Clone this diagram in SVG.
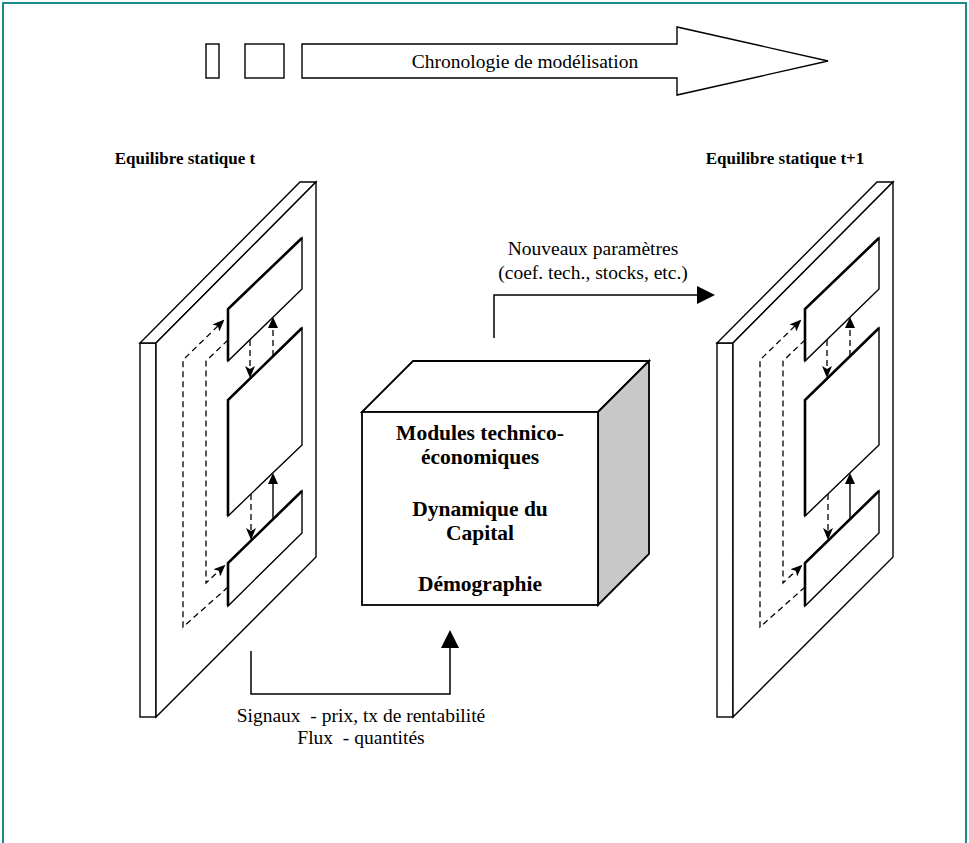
<svg xmlns="http://www.w3.org/2000/svg" xmlns:xlink="http://www.w3.org/1999/xlink" width="969" height="843" viewBox="0 0 969 843">
<style>
.ln{fill:#fff;stroke:#000;stroke-width:1.4;stroke-linejoin:miter}
.thk{fill:none;stroke:#000;stroke-width:2.6}
.ds{fill:none;stroke:#000;stroke-width:1.3;stroke-dasharray:6 4}
.so{fill:none;stroke:#000;stroke-width:1.4}
.conn{fill:none;stroke:#000;stroke-width:1.5}
.t{font-family:'Liberation Serif','Times New Roman',serif;font-size:19.5px;fill:#000}
.tb{font-family:'Liberation Serif','Times New Roman',serif;font-weight:bold;fill:#000}
</style>
<defs>
<marker id="triS" markerUnits="userSpaceOnUse" viewBox="0 0 11 10" markerWidth="11" markerHeight="10" refX="9" refY="5" orient="auto"><path d="M0,0 L11,5 L0,10 z" fill="#000"/></marker>
<marker id="barb" markerUnits="userSpaceOnUse" viewBox="0 0 12 10" markerWidth="12" markerHeight="10" refX="10" refY="5" orient="auto"><path d="M0,0 L12,5 L0,10 L3,5 z" fill="#000"/></marker>
<marker id="triB" markerUnits="userSpaceOnUse" viewBox="0 0 18 18" markerWidth="18" markerHeight="18" refX="15" refY="9" orient="auto"><path d="M0,0 L18,9 L0,18 z" fill="#000"/></marker>
<g id="panelShape">
<rect class="ln" x="140" y="343" width="16" height="374"/>
<polygon class="ln" points="140,343 156,343 316,182 300,182"/>
<polygon class="ln" points="156,343 316,182 316,557 156,717"/>
<polygon class="ln" points="228,309 302,238 302,289 228,361"/>
<polyline class="thk" points="228,361 228,309 302,238"/>
<polygon class="ln" points="228,400 302,328 302,445 228,516"/>
<polyline class="thk" points="228,516 228,400 302,328"/>
<polygon class="ln" points="228,563 302,491 302,533 228,606"/>
<polyline class="thk" points="228,606 228,563 302,491"/>
<polyline class="ds" points="228,587 183,627 183,360 223,321" marker-end="url(#barb)"/>
<polyline class="ds" points="228,340 206,361 206,583 224,566" marker-end="url(#barb)"/>
<line class="ds" x1="250" y1="340" x2="250" y2="376" marker-end="url(#barb)"/>
<line class="ds" x1="273" y1="356" x2="273" y2="319" marker-end="url(#triS)"/>
<line class="ds" x1="251" y1="494" x2="251" y2="538" marker-end="url(#barb)"/>
<line class="so" x1="273" y1="519" x2="273" y2="475" marker-end="url(#triS)"/>
</g>
</defs>
<rect x="3" y="3" width="963" height="850" fill="#fff" stroke="#1b8c8c" stroke-width="2"/>
<g id="timeline">
<rect class="ln" x="206" y="44" width="13" height="34"/>
<rect class="ln" x="245" y="44" width="39" height="34"/>
<polygon class="ln" points="302,44 677,44 677,27 828,61 677,95 677,78 302,78"/>
<text class="t" x="525" y="68" text-anchor="middle">Chronologie de modélisation</text>
</g>
<g id="title-t"><text class="tb" x="185" y="164" font-size="17" text-anchor="middle">Equilibre statique t</text></g>
<g id="title-t1"><text class="tb" x="785" y="164" font-size="17" text-anchor="middle">Equilibre statique t+1</text></g>
<g id="panel-t"><use xlink:href="#panelShape"/></g>
<g id="panel-t1"><use xlink:href="#panelShape" transform="translate(577,0)"/></g>
<g id="cube">
<polygon class="ln" points="362,412 413,361 649,361 598,412" style="stroke-width:1.8"/>
<polygon points="598,412 649,361 649,554 598,605" fill="#c8c8c8" stroke="#000" stroke-width="1.8"/>
<rect class="ln" x="362" y="412" width="236" height="193" style="stroke-width:1.8"/>
<g class="tb" font-size="21.5" text-anchor="middle">
<text x="480" y="440">Modules technico-</text>
<text x="480" y="464">économiques</text>
<text x="480" y="516">Dynamique du</text>
<text x="480" y="540">Capital</text>
<text x="480" y="591">Démographie</text>
</g>
</g>
<g id="connectors">
<path class="conn" d="M494,338 V295 H712" marker-end="url(#triB)"/>
<path class="conn" d="M251,651 V694 H450 V633" marker-end="url(#triB)"/>
</g>
<g id="label-params">
<text class="t" x="593" y="255" text-anchor="middle">Nouveaux paramètres</text>
<text class="t" x="593" y="279" text-anchor="middle">(coef. tech., stocks, etc.)</text>
</g>
<g id="label-signals">
<text class="t" x="361" y="722" text-anchor="middle" xml:space="preserve">Signaux  - prix, tx de rentabilité</text>
<text class="t" x="361" y="744" text-anchor="middle" xml:space="preserve">Flux  - quantités</text>
</g>
</svg>
